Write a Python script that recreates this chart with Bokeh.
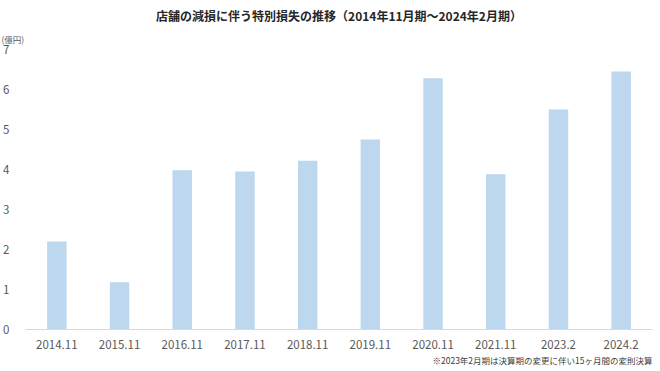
from bokeh.plotting import figure
from bokeh.models import ColumnDataSource, Title, FactorRange, Range1d, FixedTicker
from bokeh.embed import file_html
from bokeh.resources import INLINE

periods = ["2014.11", "2015.11", "2016.11", "2017.11", "2018.11",
           "2019.11", "2020.11", "2021.11", "2023.2", "2024.2"]
losses = [2.2, 1.18, 3.98, 3.95, 4.22, 4.75, 6.28, 3.88, 5.5, 6.45]
y_ticks = [0, 1, 2, 3, 4, 5, 6, 7]

title_text = "店舗の減損に伴う特別損失の推移（2014年11月期～2024年2月期）"
unit_text = "(億円)"
note_text = "※2023年2月期は決算期の変更に伴い15ヶ月間の変則決算"

FONT = "Noto Sans CJK JP"

src = ColumnDataSource(data=dict(period=periods, loss=losses))

p = figure(width=660, height=371, output_backend="svg", toolbar_location=None,
           x_range=FactorRange(factors=periods, range_padding=0),
           y_range=Range1d(0, 7),
           min_border_left=20, min_border_right=8,
           min_border_top=49, min_border_bottom=42)

p.vbar(x="period", top="loss", width=0.31, source=src,
       fill_color="#BDD7EE", line_color=None)

p.xgrid.grid_line_color = None
p.ygrid.grid_line_color = None
p.outline_line_color = None
p.background_fill_color = "white"
p.border_fill_color = "white"

p.xaxis.axis_line_color = "#D9D9D9"
p.xaxis.axis_line_width = 1
p.xaxis.major_tick_line_color = None
p.xaxis.minor_tick_line_color = None
p.xaxis.major_label_text_font = FONT
p.xaxis.major_label_text_font_size = "11.5px"
p.xaxis.major_label_text_color = "#595959"
p.xaxis.major_label_standoff = 4

p.yaxis.ticker = FixedTicker(ticks=y_ticks)
p.yaxis.axis_line_color = None
p.yaxis.major_tick_line_color = None
p.yaxis.minor_tick_line_color = None
p.yaxis.major_label_text_font = FONT
p.yaxis.major_label_text_font_size = "11.5px"
p.yaxis.major_label_text_color = "#595959"
p.yaxis.major_label_standoff = 10

# unit label (closest to the frame), then the main title above it
p.add_layout(Title(text=unit_text, text_font=FONT, text_font_size="8.5px",
                   text_font_style="normal", text_color="#595959",
                   align="left", offset=-24, standoff=10), "above")
p.add_layout(Title(text=title_text, text_font=FONT, text_font_size="12px",
                   text_font_style="bold", text_color="#262626",
                   align="center", offset=-10, standoff=4), "above")
p.add_layout(Title(text=note_text, text_font=FONT, text_font_size="8.5px",
                   text_font_style="normal", text_color="#404040",
                   align="right", offset=0, standoff=0), "below")

open("out.html", "w").write(file_html(p, INLINE))
